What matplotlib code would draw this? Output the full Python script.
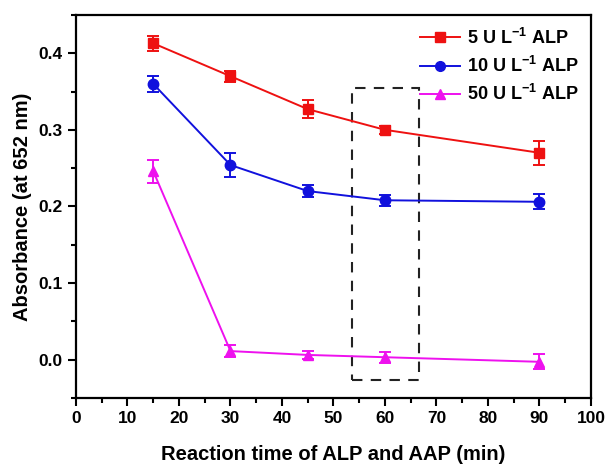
import matplotlib
matplotlib.use("Agg")
import matplotlib.pyplot as plt
from matplotlib.patches import Rectangle
from matplotlib.lines import Line2D
from matplotlib.ticker import MultipleLocator

plt.rcParams['font.family'] = ['Liberation Sans', 'DejaVu Sans']
plt.rcParams['font.weight'] = 'bold'
plt.rcParams['mathtext.fontset'] = 'custom'
plt.rcParams['mathtext.rm'] = 'Liberation Sans:bold'
plt.rcParams['mathtext.default'] = 'rm'

time_min = [15, 30, 45, 60, 90]

abs_5u = [0.413, 0.370, 0.327, 0.300, 0.270]
err_5u = [0.010, 0.007, 0.012, 0.005, 0.016]

abs_10u = [0.360, 0.254, 0.220, 0.208, 0.206]
err_10u = [0.010, 0.016, 0.008, 0.007, 0.010]

abs_50u = [0.246, 0.011, 0.006, 0.003, -0.003]
err_50u = [0.015, 0.008, 0.005, 0.007, 0.010]

labels = ['5 U L$^{-1}$ ALP', '10 U L$^{-1}$ ALP', '50 U L$^{-1}$ ALP']

fig = plt.figure(figsize=(6.08, 4.68), dpi=100)
ax = fig.add_axes([0.125, 0.15, 0.847, 0.818])

series = [
    (abs_5u, err_5u, '#ee1111', 's', 7, labels[0]),
    (abs_10u, err_10u, '#1111dd', 'o', 7.5, labels[1]),
    (abs_50u, err_50u, '#ee11ee', '^', 7.5, labels[2]),
]
handles = []
for y, e, c, m, ms, lab in series:
    ax.errorbar(time_min, y, yerr=e, color=c, marker=m, markersize=ms,
                linewidth=1.4, elinewidth=1.4, capsize=4, capthick=1.4)
    handles.append(Line2D([], [], color=c, marker=m, markersize=ms - 0.5,
                          linewidth=1.4, label=lab))

# highlight window around 60 min
ax.add_patch(Rectangle((53.5, -0.027), 13.2, 0.381, fill=False,
                       edgecolor='#222222', linestyle=(0, (5, 4)), linewidth=1.5))

ax.set_xlim(0, 100)
ax.set_ylim(-0.05, 0.45)
ax.xaxis.set_major_locator(MultipleLocator(10))
ax.xaxis.set_minor_locator(MultipleLocator(5))
ax.yaxis.set_minor_locator(MultipleLocator(0.05))
ax.set_yticks([0.0, 0.1, 0.2, 0.3, 0.4])
ax.set_yticklabels(['0.0', '0.1', '0.2', '0.3', '0.4'])
ax.tick_params(which='major', direction='out', length=6, width=1.5, labelsize=12.5)
ax.tick_params(which='minor', direction='out', length=3.5, width=1.5)
for s in ax.spines.values():
    s.set_linewidth(1.6)

ax.set_xlabel('Reaction time of ALP and AAP (min)', fontsize=14.5, fontweight='bold', labelpad=14)
ax.set_ylabel('Absorbance (at 652 nm)', fontsize=14.5, fontweight='bold', labelpad=5)

ax.legend(handles=handles, loc='upper right', frameon=False, fontsize=13,
          handlelength=2.2, handletextpad=0.4, labelspacing=0.45, borderaxespad=0.3)

fig.savefig('out.png', dpi=100)
